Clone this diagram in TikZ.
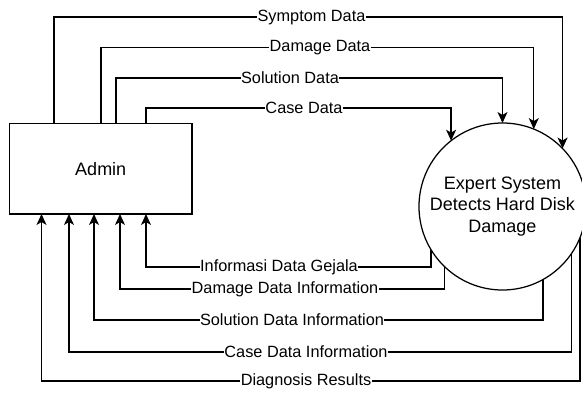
\documentclass[tikz,border=0pt]{standalone}
\usepackage{fontspec}
\setmainfont{Liberation Sans}
\usetikzlibrary{arrows.meta}

\begin{document}
\begin{tikzpicture}[x=1pt, y=-1pt,
  every node/.style={text=black},
  entity/.style={draw, line width=1.25pt, rectangle, minimum width=182.5pt,
    minimum height=90.5pt, inner sep=0pt, outer sep=0pt,
    font=\fontsize{18}{21.5}\selectfont},
  process/.style={draw, line width=1.25pt, circle, minimum size=167pt,
    inner sep=0pt, outer sep=0pt, align=center,
    font=\fontsize{18}{21.5}\selectfont},
  lbl/.style={fill=white, inner sep=0.4pt, outer sep=0pt,
    font=\fontsize{16.3}{18}\selectfont},
  flow/.style={draw, line width=1.25pt,
    -{Stealth[length=11pt, width=10pt, inset=3pt]}}
]
\useasboundingbox (0,0) rectangle (582,394);

% external entity and process
\node[entity] (admin) at (100.75,168.75) {Admin};
\node[process] (sys) at (502.5,206.5)
  {Expert System\\Detects Hard Disk\\Damage};

% labels of the incoming flows (above)
\node[lbl] (symp) at (311.5,17)  {Symptom Data};
\node[lbl] (dmg)  at (320,47.5)  {Damage Data};
\node[lbl] (sol)  at (290,78)    {Solution Data};
\node[lbl] (case) at (304,108)   {Case Data};

% labels of the outgoing flows (below)
\node[lbl] (gej)   at (279,267)  {Informasi Data Gejala};
\node[lbl] (dmgi)  at (285,289)  {Damage Data Information};
\node[lbl] (soli)  at (292,320)  {Solution Data Information};
\node[lbl] (casei) at (306,352)  {Case Data Information};
\node[lbl] (diag)  at (306,381)  {Diagnosis Results};

% Admin -> system
\draw[flow] ([xshift=44.5pt]admin.north west)  |- (symp) -| (sys.44.6);
\draw[flow] ([xshift=91.5pt]admin.north west)  |- (dmg)  -| (sys.68.5);
\draw[flow] ([xshift=106.5pt]admin.north west) |- (sol)  -| (sys.90);
\draw[flow] ([xshift=136.5pt]admin.north west) |- (case) -| (sys.128.2);

% system -> Admin
\draw[flow] (sys.-149.4) |- (gej)   -| ([xshift=136.5pt]admin.south west);
\draw[flow] (sys.-134.8) |- (dmgi)  -| ([xshift=110.5pt]admin.south west);
\draw[flow] (sys.-61.0)  |- (soli)  -| ([xshift=84.5pt]admin.south west);
\draw[flow] (sys.-34.0)  |- (casei) -| ([xshift=59.5pt]admin.south west);
\draw[flow] (sys.-22.3)  |- (diag)  -| ([xshift=32pt]admin.south west);
\end{tikzpicture}
\end{document}
